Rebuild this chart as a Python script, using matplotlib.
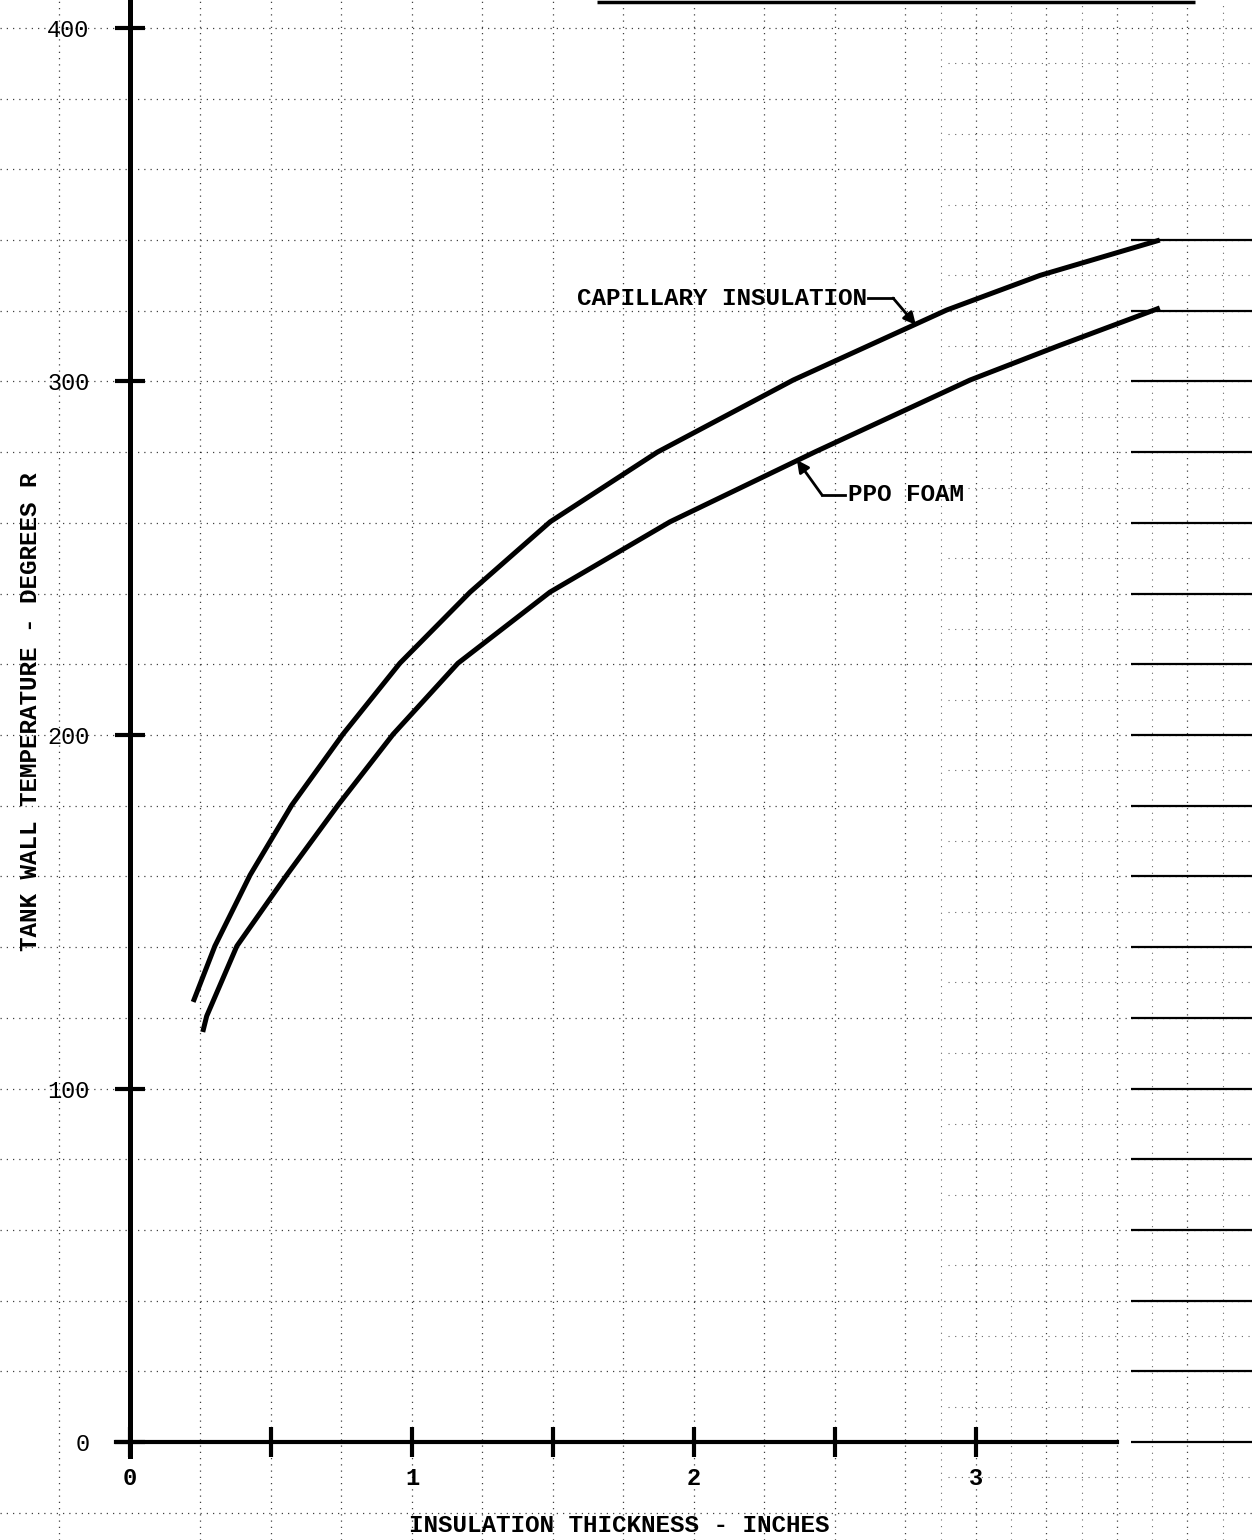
import numpy as np
import matplotlib
matplotlib.use("Agg")
import matplotlib.pyplot as plt

# ---- data ----
cap_x = [0.224, 0.301, 0.426, 0.574, 0.755, 0.957, 1.206, 1.490, 1.870, 2.352, 2.896, 3.227, 3.652]
cap_y = [124.5, 140.3, 160.4, 180.2, 200.2, 220.3, 240.4, 260.3, 280.0, 300.4, 320.2, 330.0, 340.0]

ppo_x = [0.258, 0.272, 0.379, 0.556, 0.738, 0.933, 1.163, 1.489, 1.915, 2.430, 2.979, 3.290, 3.652]
ppo_y = [116.0, 120.5, 140.3, 160.4, 180.2, 200.2, 220.3, 240.4, 260.3, 280.1, 300.4, 310.0, 320.8]

x_major = [0, 1, 2, 3]
x_minor = [0.5, 1.5, 2.5]
y_major = [0, 100, 200, 300, 400]
y_labels = ["0", "100", "200", "300", "400"]

grid_x = np.arange(-0.25, 4.0, 0.25)
grid_y = np.arange(-20, 410, 20)

FONT = ["Liberation Mono", "DejaVu Sans Mono"]

fig = plt.figure(figsize=(12.52, 15.40), dpi=100)
ax = fig.add_axes([0, 0, 1, 1])
ax.set_xlim(-0.461, 3.979)
ax.set_ylim(-27.7, 407.9)

# graph-paper grid
ax.vlines([g for g in grid_x if g != 0], -27.7, 407.9, colors="black",
          linestyles=(0, (1, 4)), linewidth=0.9, alpha=0.75, zorder=0)
ax.hlines([g for g in grid_y if g != 0], -0.461, 3.979, colors="black",
          linestyles=(0, (1, 4)), linewidth=0.9, alpha=0.75, zorder=0)
# denser paper at right
ax.hlines(np.arange(-10, 400, 20), 2.9, 3.979, colors="black",
          linestyles=(0, (1, 5)), linewidth=0.8, alpha=0.6, zorder=0)
ax.vlines(np.arange(2.875, 4.0, 0.25), -27.7, 407.9, colors="black",
          linestyles=(0, (1, 5)), linewidth=0.8, alpha=0.6, zorder=0)
ax.hlines(np.arange(0, 350, 20), 3.55, 3.979, colors="black",
          linewidth=1.6, zorder=0)
# top border fragment
ax.hlines(407.4, 1.656, 3.777, colors="black", linewidth=2.5)

# curves
ax.plot(cap_x, cap_y, color="black", linewidth=3.6, solid_capstyle="butt",
        solid_joinstyle="round", zorder=3)
ax.plot(ppo_x, ppo_y, color="black", linewidth=3.6, solid_capstyle="butt",
        solid_joinstyle="round", zorder=3)

# spines through the origin
for s in ["top", "right"]:
    ax.spines[s].set_visible(False)
ax.spines["left"].set_position(("data", 0))
ax.spines["bottom"].set_position(("data", 0))
ax.spines["left"].set_bounds(-4, 408)
ax.spines["bottom"].set_bounds(-0.05, 3.5)
ax.spines["left"].set_linewidth(3.6)
ax.spines["bottom"].set_linewidth(3.0)

ax.set_xticks(x_major)
ax.set_xticklabels([str(v) for v in x_major])
ax.set_xticks(x_minor, minor=True)
ax.set_yticks(y_major)
ax.set_yticklabels(y_labels)
ax.tick_params(axis="x", which="both", direction="inout", length=22, width=3, pad=7)
ax.tick_params(axis="y", which="both", direction="inout", length=22, width=3, pad=18)
for lab in ax.get_xticklabels():
    lab.set_fontfamily(FONT)
    lab.set_fontsize(17)
    lab.set_fontweight("bold")
for lab in ax.get_yticklabels():
    lab.set_fontfamily(FONT)
    lab.set_fontsize(17)

# axis titles
ax.text(0.495, 0.0097, "INSULATION THICKNESS - INCHES", transform=ax.transAxes,
        ha="center", va="center", fontsize=17.5, fontweight="bold", family=FONT)
ax.text(0.024, 0.538, "TANK WALL TEMPERATURE - DEGREES R", transform=ax.transAxes,
        ha="center", va="center", rotation=90, fontsize=17.5, fontweight="bold", family=FONT)

# annotations
ax.text(2.612, 323.6, "CAPILLARY INSULATION", ha="right", va="center",
        fontsize=17.5, fontweight="bold", family=FONT)
ax.plot([2.617, 2.706], [323.6, 323.6], color="black", linewidth=2)
ax.annotate("", xy=(2.787, 316.0), xytext=(2.706, 323.6),
            arrowprops=dict(arrowstyle="-|>", color="black", lw=2,
                            mutation_scale=18, shrinkA=0, shrinkB=0))

ax.text(2.545, 267.9, "PPO FOAM", ha="left", va="center",
        fontsize=17.5, fontweight="bold", family=FONT)
ax.plot([2.535, 2.454], [267.9, 267.9], color="black", linewidth=2)
ax.annotate("", xy=(2.365, 277.8), xytext=(2.454, 267.9),
            arrowprops=dict(arrowstyle="-|>", color="black", lw=2,
                            mutation_scale=18, shrinkA=0, shrinkB=0))

fig.savefig("out.png", dpi=100, facecolor="white")
